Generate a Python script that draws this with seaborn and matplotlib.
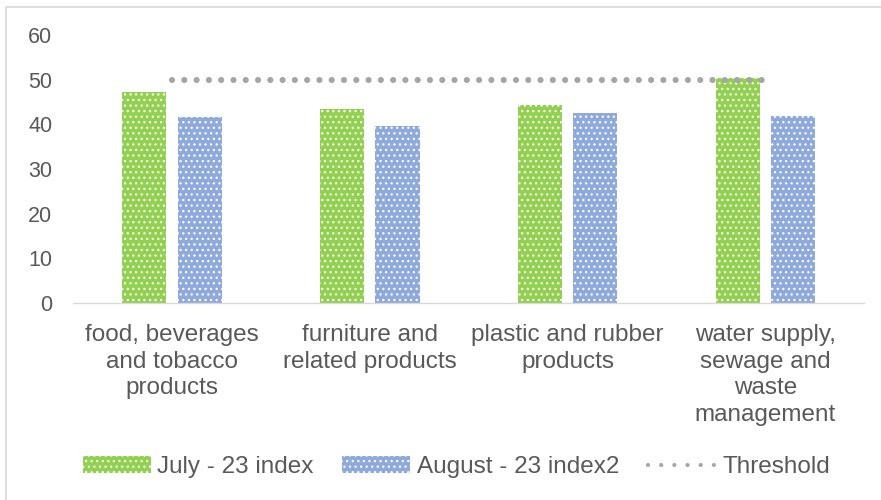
import matplotlib
matplotlib.use("Agg")
import matplotlib.pyplot as plt
import seaborn as sns
import pandas as pd
from matplotlib.patches import Patch, Rectangle
from matplotlib.lines import Line2D

categories = ["food, beverages\nand tobacco\nproducts",
              "furniture and\nrelated products",
              "plastic and rubber\nproducts",
              "water supply,\nsewage and\nwaste\nmanagement"]
july = [47.3, 43.4, 44.3, 50.3]
august = [41.6, 39.6, 42.5, 41.8]
threshold = [50, 50, 50, 50]
series_names = ["July - 23 index", "August - 23 index2", "Threshold"]

sns.set_theme(style="white")
plt.rcParams["font.family"] = ["Liberation Sans", "DejaVu Sans"]
plt.rcParams["hatch.linewidth"] = 0.9

green = "#92D050"
blue = "#8EA9DB"
gray_txt = "#595959"

df = pd.DataFrame({
    "cat": categories * 2,
    "value": july + august,
    "series": [series_names[0]] * 4 + [series_names[1]] * 4,
})

fig = plt.figure(figsize=(8.81, 5.0), dpi=100)
ax = fig.add_axes([0.083, 0.394, 0.898, 0.536])

sns.barplot(data=df, x="cat", y="value", hue="series", ax=ax,
            palette=[green, blue], width=0.56, gap=0.2, legend=False,
            edgecolor="white", linewidth=0, saturation=1)
for p in ax.patches:
    p.set_hatch("...")
    p.set_edgecolor("white")

ax.plot(range(len(categories)), threshold, color="#A5A5A5",
        linestyle=(0, (0.01, 2.0)), linewidth=4.4,
        dash_capstyle="round", zorder=3)

ax.set_ylim(0, 60)
ax.set_xlim(-0.5, 3.5)
ax.set_yticks(range(0, 61, 10))
ax.set_xlabel("")
ax.set_ylabel("")
for s in ["top", "right", "left"]:
    ax.spines[s].set_visible(False)
ax.spines["bottom"].set_color("#D9D9D9")
ax.spines["bottom"].set_linewidth(1)
ax.tick_params(axis="y", labelsize=15.5, labelcolor=gray_txt, length=0, pad=15)
ax.tick_params(axis="x", labelsize=17.5, labelcolor=gray_txt, length=0, pad=15)
for t in ax.get_xticklabels():
    t.set_linespacing(1.28)

handles = [
    Patch(facecolor=green, edgecolor="white", hatch="...", linewidth=0),
    Patch(facecolor=blue, edgecolor="white", hatch="...", linewidth=0),
    Line2D([0], [0], color="#A5A5A5", linestyle=(0, (0.01, 3.15)),
           linewidth=3.0, dash_capstyle="round"),
]
fig.legend(handles, series_names, loc="center", bbox_to_anchor=(0.518, 0.066),
           ncol=3, frameon=False, fontsize=17.5, labelcolor=gray_txt,
           handlelength=2.8, handleheight=0.65, columnspacing=1.2,
           handletextpad=0.25)

fig.patches.append(Rectangle((5.5 / 881, -0.05), 1.2, 1 - 6.5 / 500 + 0.05,
                             transform=fig.transFigure, fill=False,
                             edgecolor="#D9D9D9", linewidth=1.2))

fig.savefig("out.png", dpi=100)
